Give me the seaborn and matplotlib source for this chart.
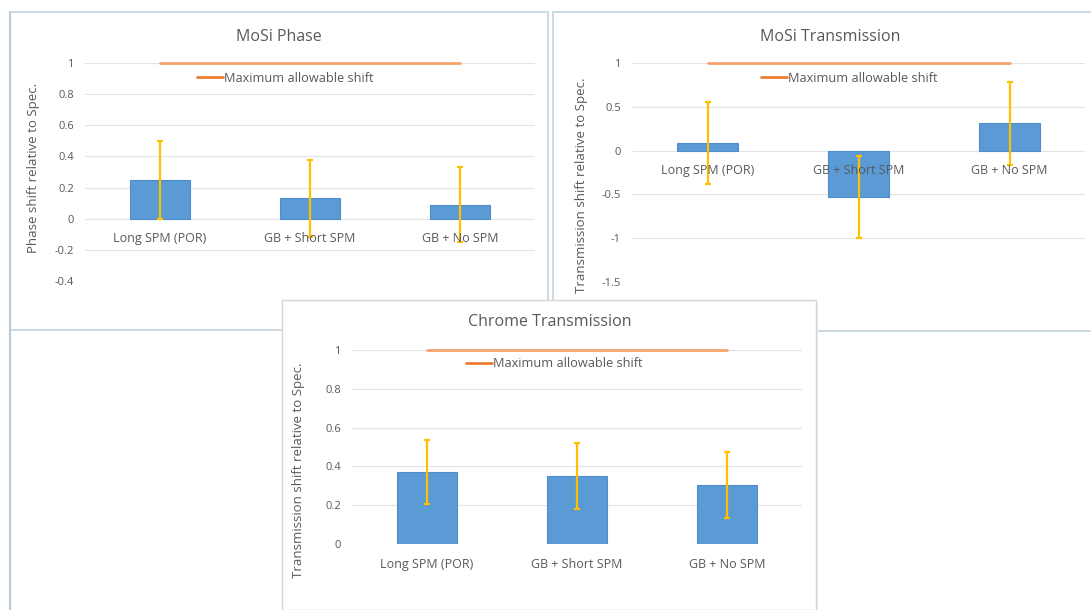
import numpy as np
import matplotlib
matplotlib.use("Agg")
import matplotlib.pyplot as plt
from matplotlib.patches import Rectangle
from matplotlib.lines import Line2D
from matplotlib.ticker import FuncFormatter
import seaborn as sns

# data
categories = ["Long SPM (POR)", "GB + Short SPM", "GB + No SPM"]
phase_vals = [0.25, 0.13, 0.09]
phase_err = [0.25, 0.245, 0.24]
mosi_trans_vals = [0.09, -0.53, 0.31]
mosi_trans_err = [0.47, 0.465, 0.475]
chrome_vals = [0.37, 0.35, 0.305]
chrome_err = [0.165, 0.17, 0.17]
max_shift = 1.0

BAR = "#5b9bd5"
ERR = "#ffc000"
LINE = "#f4a36c"
TXT = "#595959"


def panel(ax, vals, errs, title, ylabel, ylim, yticks, label_xy, legend_xy, title_xy):
    sns.barplot(x=categories, y=vals, color=BAR, saturation=1, width=0.4, ax=ax,
                edgecolor="#4f8ccb", linewidth=0.8, errorbar=None, zorder=2)
    ax.errorbar(range(len(categories)), vals, yerr=errs, fmt="none",
                ecolor=ERR, elinewidth=1.6, capsize=2, capthick=1.6, zorder=3)
    ax.plot(range(len(categories)), [max_shift] * len(categories), color=LINE,
            lw=2, zorder=3, clip_on=False)
    ax.set_xlim(-0.5, 2.5)
    ax.set_ylim(*ylim)
    ax.set_yticks(yticks)
    ax.yaxis.set_major_formatter(FuncFormatter(lambda v, p: f"{v:g}"))
    ax.grid(axis="y", color="#e3e3e3", lw=0.8, zorder=0)
    ax.set_axisbelow(True)
    ax.set_xticks([])
    ax.set_xlabel("")
    for s in ax.spines.values():
        s.set_visible(False)
    ax.tick_params(axis="y", length=0, pad=8, labelsize=8, labelcolor=TXT)
    ax.set_ylabel(ylabel, fontsize=9.5, color=TXT)
    ax.yaxis.set_label_coords(*label_xy)
    # title is centred on the chart frame, not on the plot area
    ax.text(title_xy[0], title_xy[1], title, transform=ax.transAxes, ha="center",
            va="center", fontsize=11.5, color=TXT)
    for i, c in enumerate(categories):
        ax.annotate(c, (i, 0), xytext=(0, -14.5), textcoords="offset points",
                    ha="center", va="center", fontsize=9, color=TXT, zorder=4)
    h = Line2D([], [], color="#ed7d31", lw=2)
    ax.legend([h], ["Maximum allowable shift"], loc="center",
              bbox_to_anchor=legend_xy, frameon=False, fontsize=9.2,
              handlelength=2.0, handletextpad=0.1, labelcolor=TXT)
    ax.set_facecolor("none")


def main():
    sns.set_style("white")
    plt.rcParams["font.family"] = ["Open Sans", "DejaVu Sans"]

    W, H = 1091, 610
    fig = plt.figure(figsize=(W / 100, H / 100), dpi=100)

    def fx(px):
        return px / W

    def fy(py):
        return 1 - py / H

    # panel frames
    fig.add_artist(Rectangle((fx(10), fy(330)), fx(538), 318 / H, transform=fig.transFigure,
                             facecolor="white", edgecolor="#c5d3dd", lw=1.2, zorder=-3))
    fig.add_artist(Rectangle((fx(553), fy(331)), fx(545), 319 / H, transform=fig.transFigure,
                             facecolor="white", edgecolor="#c5d3dd", lw=1.2, zorder=-3))
    fig.add_artist(Line2D([fx(10), fx(10)], [fy(12), 0], transform=fig.transFigure,
                          color="#b7cad8", lw=1.5, zorder=-3))
    fig.add_artist(Rectangle((fx(284), fy(612)), fx(534), 310 / H, transform=fig.transFigure,
                             facecolor="#ececec", edgecolor="none", zorder=-2))
    fig.add_artist(Rectangle((fx(282), fy(610)), fx(534), 310 / H, transform=fig.transFigure,
                             facecolor="white", edgecolor="#d6d6d6", lw=1.0, zorder=-1))

    ax1 = fig.add_axes([fx(85), fy(281), fx(450), 218 / H])
    panel(ax1, phase_vals, phase_err, "MoSi Phase", "Phase shift relative to Spec.",
          (-0.4, 1.0), np.arange(-0.4, 1.01, 0.2).round(1), (-0.1, 0.52),
          (0.445, 0.93), (0.431, 1.12))

    ax2 = fig.add_axes([fx(632), fy(282), fx(453), 219 / H])
    panel(ax2, mosi_trans_vals, mosi_trans_err, "MoSi Transmission",
          "Transmission shift relative to Spec.", (-1.5, 1.0),
          np.arange(-1.5, 1.01, 0.5), (-0.097, 0.44), (0.48, 0.93), (0.437, 1.12))

    ax3 = fig.add_axes([fx(352), fy(544), fx(450), 194 / H])
    panel(ax3, chrome_vals, chrome_err, "Chrome Transmission",
          "Transmission shift relative to Spec.", (0.0, 1.0),
          np.arange(0, 1.01, 0.2).round(1), (-0.104, 0.38), (0.45, 0.93), (0.44, 1.144))

    fig.savefig("out.png", dpi=100)


if __name__ == "__main__":
    main()
